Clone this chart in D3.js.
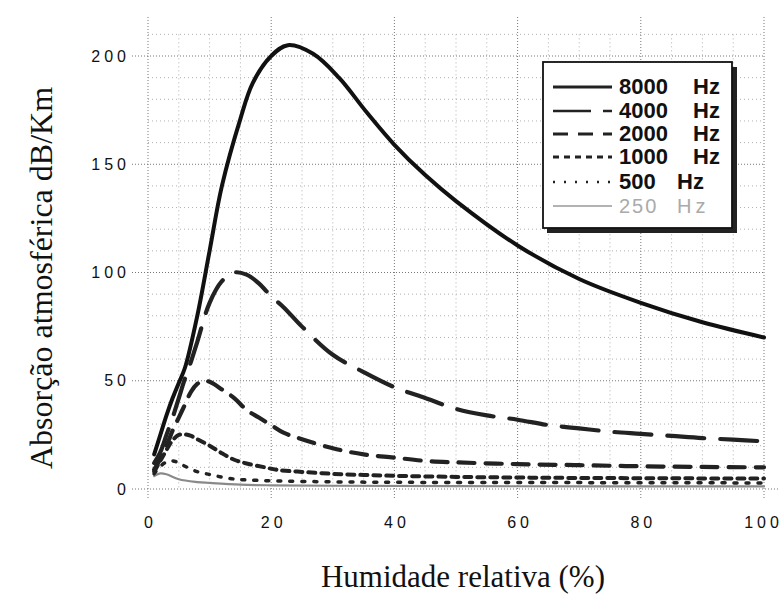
<!DOCTYPE html>
<html><head><meta charset="utf-8">
<script src="https://cdn.jsdelivr.net/npm/d3@7"></script>
<style>body{margin:0;background:#fff}svg{display:block}</style>
</head><body>
<svg id="c" width="784" height="596"></svg>
<script>
const humidity8000 = [1,2,3,4,5,6,8,10,12,15,17,20,22.7,26.8,31,35.5,40,45,50,60,70,80,90,100];
const abs8000     = [16,25,34,42,49,56,80,110,140,171,187.5,200,205,201,190,174,159,145,133,112.5,97,86,77,70];
const humidity4000 = [1,2,3,4,5,6,7,8,10,12,14,16,18,20,22,25,30,35,40,45,50,55,60,65,70,75,80,85,90,95,100];
const abs4000     = [12,17,25,33,42,51,59,68,86,96,100,99,95,89,84,75,62,54,47,42,37,34,32,29.5,28,26.5,25.5,24.5,23.5,22.8,22];
const humidity2000 = [1,2,3,4,5,6,7,8,9,10,12,14,16,18,20,22,25,30,35,40,45,50,60,70,80,90,100];
const abs2000     = [9,14,20,27,33,39,45,48.5,50,49.5,46,42,36.5,33,29.5,26,23,18.8,16,14.5,13,12.3,11.5,11,10.5,10.2,10];
const humidity1000 = [1,2,3,4,5,6,7,8,10,12,14,16,19,21,25,30,35,40,50,60,70,80,90,100];
const abs1000     = [8,13,18,22.5,25,25.2,24.5,23,20,16.5,13.5,11.8,10,8.8,7.9,7,6.5,6.1,5.6,5.3,5.1,5,4.9,4.8];
const humidity500 = [1,2,3,4,5,6,8,10,12,14,16,20,30,40,60,100];
const abs500     = [7,10.5,12.5,13,12,10.5,8,6.7,5.5,4.6,4.2,3.8,3.3,3.1,3,2.8];
const humidity250 = [1,2,3,5,8,10,15,20,30,50,100];
const abs250     = [6,7.2,6.8,4.5,3.2,2.8,2,1.7,1.5,1.3,1.2];

const xTicks = [0,20,40,60,80,100];
const yTicks = [0,50,100,150,200];
const legendLabels = ["8000","4000","2000","1000","500","250"];

const svg = d3.select("#c");
const x = d3.scaleLinear().domain([0,100]).range([148,764]);
const y = d3.scaleLinear().domain([0,200]).range([489,56]);

const grid = svg.append("g");
d3.range(5,100,5).filter(v=>v%20!==0).forEach(v=>{
  grid.append("line").attr("x1",x(v)).attr("x2",x(v)).attr("y1",y(210)).attr("y2",y(0))
    .attr("stroke","#b0b0b0").attr("stroke-width",1).attr("stroke-dasharray","1,3");
});
d3.range(10,220,10).filter(v=>v%50!==0).forEach(v=>{
  grid.append("line").attr("x1",x(0)).attr("x2",x(100)).attr("y1",y(v)).attr("y2",y(v))
    .attr("stroke","#b0b0b0").attr("stroke-width",1).attr("stroke-dasharray","1,3");
});
xTicks.forEach(v=>{
  grid.append("line").attr("x1",x(v)).attr("x2",x(v)).attr("y1",17).attr("y2",500)
    .attr("stroke","#777").attr("stroke-width",1).attr("stroke-dasharray","1,2");
});
yTicks.forEach(v=>{
  grid.append("line").attr("x1",132).attr("x2",v===0?780:x(100)).attr("y1",y(v)).attr("y2",y(v))
    .attr("stroke","#777").attr("stroke-width",1).attr("stroke-dasharray","1,2");
});

const xAxis = svg.append("g").attr("transform","translate(0,505)")
  .call(d3.axisBottom(x).tickValues(xTicks).tickSize(0).tickPadding(12));
const yAxis = svg.append("g").attr("transform","translate(130,0)")
  .call(d3.axisLeft(y).tickValues(yTicks).tickSize(0).tickPadding(0));
[xAxis,yAxis].forEach(a=>{
  a.select(".domain").remove();
  a.selectAll("text").attr("font-family","'Liberation Sans',Arial,sans-serif")
    .attr("font-size",16).attr("fill","#111").attr("letter-spacing","4px");
});
xAxis.selectAll("text").attr("dx",2);
xAxis.selectAll("text").filter(d=>d===100).attr("dx",-1);

const line = d3.line().x(d=>x(d[0])).y(d=>y(d[1])).curve(d3.curveCatmullRom.alpha(0.5));
const series = [
  {h:humidity250,v:abs250,color:"#8a8a8a",w:2.2,dash:null},
  {h:humidity500,v:abs500,color:"#222",w:3.5,dash:"3,9"},
  {h:humidity1000,v:abs1000,color:"#222",w:4,dash:"7,6"},
  {h:humidity2000,v:abs2000,color:"#222",w:4.2,dash:"16,11"},
  {h:humidity4000,v:abs4000,color:"#222",w:4.2,dash:"37,16"},
  {h:humidity8000,v:abs8000,color:"#111",w:4,dash:null}
];
series.forEach(s=>{
  svg.append("path").datum(s.h.map((h,i)=>[h,s.v[i]]))
    .attr("d",line).attr("fill","none").attr("stroke",s.color)
    .attr("stroke-width",s.w).attr("stroke-dasharray",s.dash)
    .attr("stroke-linecap","round");
});

const lg = svg.append("g");
lg.append("rect").attr("x",547).attr("y",67).attr("width",190).attr("height",166).attr("fill","#222");
lg.append("rect").attr("x",543).attr("y",62).attr("width",189).attr("height",166)
  .attr("fill","#fff").attr("stroke","#111").attr("stroke-width",1.8);
const legStyles = [
  {dash:null,w:3,color:"#222"},
  {dash:"38,12",w:2.5,color:"#222"},
  {dash:"15,10",w:3,color:"#222"},
  {dash:"6,5",w:3,color:"#222"},
  {dash:"2,9",w:2.5,color:"#222"},
  {dash:null,w:1.5,color:"#999"}
];
const rowY = [87,111,134,157,182,206];
legendLabels.forEach((lab,i)=>{
  const st = legStyles[i];
  lg.append("line").attr("x1",553).attr("x2",612).attr("y1",rowY[i]).attr("y2",rowY[i])
    .attr("stroke",st.color).attr("stroke-width",st.w).attr("stroke-dasharray",st.dash);
  const gray = i===5;
  lg.append("text").attr("x",619).attr("y",rowY[i]+7).text(lab)
    .attr("font-family","'Liberation Sans',Arial,sans-serif").attr("font-size",gray?20:22)
    .attr("font-weight",gray?"normal":"bold").attr("fill",gray?"#aaa":"#111")
    .attr("letter-spacing",gray?"2px":"0px");
  lg.append("text").attr("x",i>=4?677:693).attr("y",rowY[i]+7).text("Hz")
    .attr("font-family","'Liberation Sans',Arial,sans-serif").attr("font-size",gray?20:22)
    .attr("font-weight",gray?"normal":"bold").attr("fill",gray?"#aaa":"#111")
    .attr("letter-spacing",gray?"4px":"0px");
});

svg.append("text").attr("x",463).attr("y",587).attr("text-anchor","middle")
  .attr("font-family","'Liberation Serif','Times New Roman',serif").attr("font-size",31)
  .attr("fill","#111").text("Humidade relativa (%)");
svg.append("text").attr("transform","translate(52,278) rotate(-90)").attr("text-anchor","middle")
  .attr("font-family","'Liberation Serif','Times New Roman',serif").attr("font-size",32)
  .attr("fill","#111").text("Absorção atmosférica dB/Km");
</script>
</body></html>
